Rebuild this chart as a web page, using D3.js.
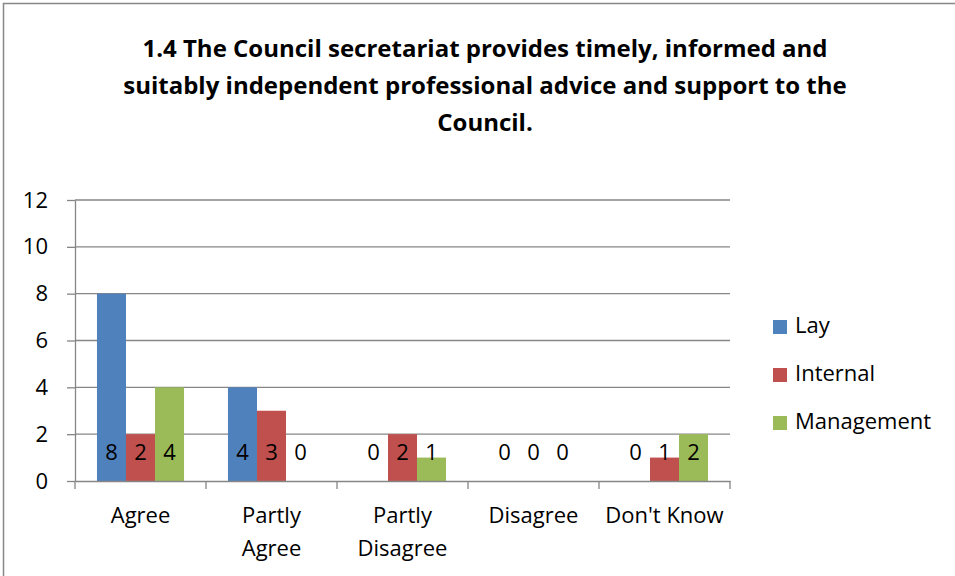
<!DOCTYPE html>
<html>
<head>
<meta charset="utf-8">
<script src="https://cdn.jsdelivr.net/npm/d3@7"></script>
<style>
    body { margin: 0; background: #fff; }
    text { font-family: "Open Sans", "Noto Sans", sans-serif; fill: #000; }
</style>
</head>
<body>
<script>
    // data
    var categories = ["Agree", "Partly Agree", "Partly Disagree", "Disagree", "Don't Know"];
    var seriesNames = ["Lay", "Internal", "Management"];
    var lay = [8, 4, 0, 0, 0];
    var internal = [2, 3, 2, 0, 1];
    var management = [4, 0, 1, 0, 2];
    var colors = ["#4F81BD", "#C0504D", "#9BBB59"];
    var yTicks = [0, 2, 4, 6, 8, 10, 12];
    var titleLines = [
        "1.4 The Council secretariat provides timely, informed and",
        "suitably independent professional advice and support to the",
        "Council."
    ];

    var width = 955, height = 576;
    var svg = d3.select("body").append("svg")
        .attr("width", width)
        .attr("height", height);

    // outer frame
    svg.append("rect")
        .attr("x", 3.5).attr("y", 3.5)
        .attr("width", width + 10).attr("height", height + 10)
        .attr("fill", "none")
        .attr("stroke", "#888")
        .attr("stroke-width", 1.5);

    // title
    svg.append("g").selectAll("text")
        .data(titleLines)
        .enter().append("text")
        .attr("x", 485)
        .attr("y", function (d, i) { return 57 + i * 37; })
        .attr("text-anchor", "middle")
        .style("font-weight", "bold")
        .style("font-size", "24px")
        .text(function (d) { return d; });

    var plot = { left: 75, right: 730, top: 200, bottom: 481 };

    var x = d3.scaleBand()
        .domain(categories)
        .range([plot.left, plot.right])
        .paddingInner(0)
        .paddingOuter(0);

    var x1 = d3.scaleBand()
        .domain(seriesNames)
        .range([0, x.bandwidth()])
        .paddingOuter(0.757)
        .paddingInner(0);

    var y = d3.scaleLinear()
        .domain([0, 12])
        .range([plot.bottom, plot.top]);

    // gridlines
    svg.append("g").selectAll("line")
        .data(yTicks.slice(1))
        .enter().append("line")
        .attr("x1", plot.left).attr("x2", plot.right)
        .attr("y1", function (d) { return y(d); })
        .attr("y2", function (d) { return y(d); })
        .attr("stroke", "#868686")
        .attr("stroke-width", 1.3);

    // y axis
    var yAxis = svg.append("g")
        .attr("transform", "translate(" + plot.left + ",0)")
        .call(d3.axisLeft(y).tickValues(yTicks).tickSize(8).tickPadding(19).tickSizeOuter(0));
    yAxis.selectAll("line, path").attr("stroke", "#868686").attr("stroke-width", 1.3);
    yAxis.selectAll("text").style("font-size", "22px").style("font-family", "'Open Sans', sans-serif");

    // bars
    var rows = categories.map(function (c, i) {
        return { cat: c, vals: [lay[i], internal[i], management[i]] };
    });

    var groups = svg.append("g").selectAll("g")
        .data(rows)
        .enter().append("g")
        .attr("transform", function (d) { return "translate(" + x(d.cat) + ",0)"; });

    groups.selectAll("rect")
        .data(function (d) { return d.vals.map(function (v, j) { return { name: seriesNames[j], v: v, j: j }; }); })
        .enter().append("rect")
        .attr("x", function (d) { return x1(d.name); })
        .attr("width", x1.bandwidth())
        .attr("y", function (d) { return y(d.v); })
        .attr("height", function (d) { return plot.bottom - y(d.v); })
        .attr("fill", function (d) { return colors[d.j]; });

    // value labels
    groups.selectAll("text")
        .data(function (d) { return d.vals.map(function (v, j) { return { name: seriesNames[j], v: v }; }); })
        .enter().append("text")
        .attr("x", function (d) { return x1(d.name) + x1.bandwidth() / 2; })
        .attr("y", y(0) - 27)
        .attr("text-anchor", "middle")
        .attr("dominant-baseline", "middle")
        .style("font-size", "22px")
        .text(function (d) { return d.v; });

    // x axis
    var xAxis = svg.append("g")
        .attr("transform", "translate(0," + plot.bottom + ")")
        .call(d3.axisBottom(x).tickSize(0).tickFormat(""));
    xAxis.select("path").attr("stroke", "#868686").attr("stroke-width", 1.3);
    xAxis.selectAll(".tick").remove();

    // x tick marks at category boundaries
    svg.append("g").selectAll("line")
        .data(categories.concat(["end"]))
        .enter().append("line")
        .attr("x1", function (d, i) { return i < categories.length ? x(d) : plot.right; })
        .attr("x2", function (d, i) { return i < categories.length ? x(d) : plot.right; })
        .attr("y1", plot.bottom)
        .attr("y2", plot.bottom + 8)
        .attr("stroke", "#868686")
        .attr("stroke-width", 1.3);

    // category labels (wrapped)
    var wrapped = {
        "Agree": ["Agree"],
        "Partly Agree": ["Partly", "Agree"],
        "Partly Disagree": ["Partly", "Disagree"],
        "Disagree": ["Disagree"],
        "Don't Know": ["Don't Know"]
    };
    svg.append("g").selectAll("text")
        .data(categories)
        .enter().append("text")
        .attr("x", function (d) { return x(d) + x.bandwidth() / 2; })
        .attr("y", 523)
        .attr("text-anchor", "middle")
        .style("font-size", "22px")
        .each(function (d) {
            var t = d3.select(this);
            wrapped[d].forEach(function (w, k) {
                t.append("tspan")
                    .attr("x", x(d) + x.bandwidth() / 2)
                    .attr("dy", k === 0 ? 0 : 33)
                    .text(w);
            });
        });

    // legend
    var legend = svg.append("g").selectAll("g")
        .data(seriesNames)
        .enter().append("g")
        .attr("transform", function (d, i) { return "translate(773," + (320 + i * 48) + ")"; });
    legend.append("rect")
        .attr("width", 14).attr("height", 14)
        .attr("fill", function (d, i) { return colors[i]; });
    legend.append("text")
        .attr("x", 22)
        .attr("y", 7)
        .attr("dominant-baseline", "middle")
        .style("font-size", "22px")
        .text(function (d) { return d; });
</script>
</body>
</html>
